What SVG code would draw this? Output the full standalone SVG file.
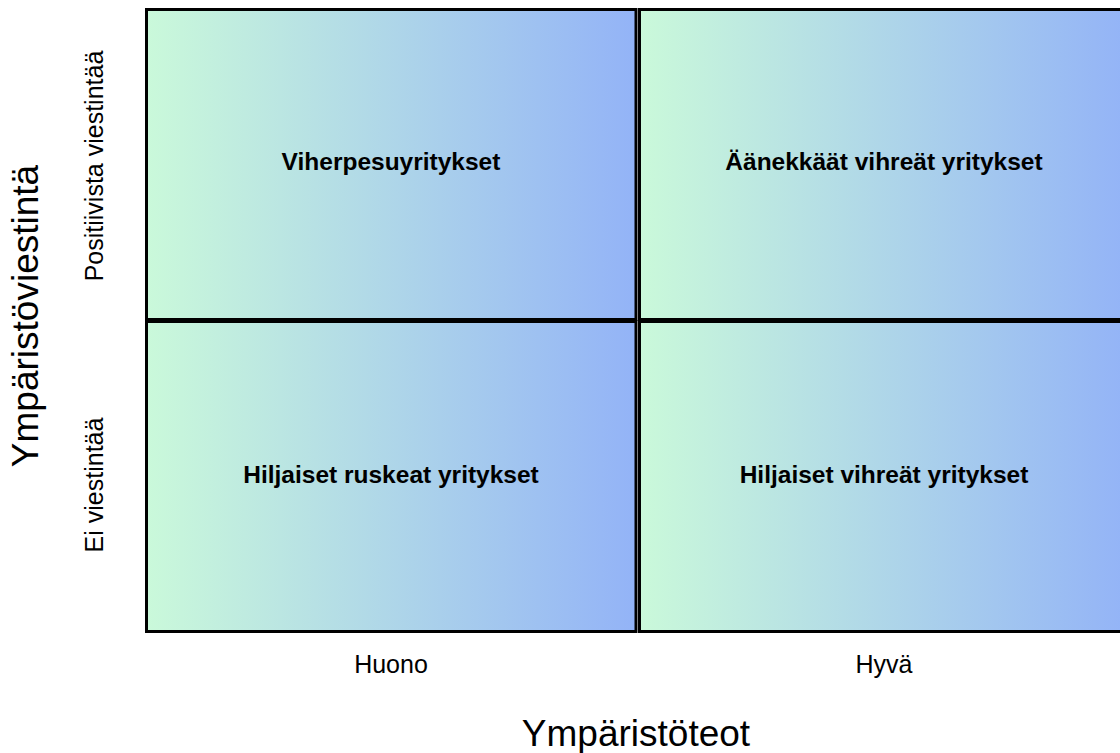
<svg xmlns="http://www.w3.org/2000/svg" width="1120" height="753" viewBox="0 0 1120 753">
<defs>
<linearGradient id="g" x1="0" y1="0" x2="1" y2="0">
<stop offset="0" stop-color="#caf9da"/>
<stop offset="1" stop-color="#93b3f7"/>
</linearGradient>
<style>
.q{fill:url(#g);stroke:#000;stroke-width:3}
.b{font-family:"Liberation Sans",Arial,sans-serif;font-weight:bold;font-size:24.5px;text-anchor:middle;fill:#000}
.s{font-family:"Liberation Sans",Arial,sans-serif;font-size:25px;text-anchor:middle;fill:#000}
.t{font-family:"Liberation Sans",Arial,sans-serif;font-size:37px;text-anchor:middle;fill:#000}
</style>
</defs>
<rect width="1120" height="753" fill="#fff"/>
<g id="q1">
<rect class="q" x="146.5" y="9.5" width="489.5" height="310"/>
<text class="b" x="391" y="170">Viherpesuyritykset</text>
</g>
<g id="q2">
<rect class="q" x="639.5" y="9.5" width="490" height="310"/>
<text class="b" x="884" y="170">Äänekkäät vihreät yritykset</text>
</g>
<g id="q3">
<rect class="q" x="146.5" y="321.5" width="489.5" height="310"/>
<text class="b" x="391" y="483">Hiljaiset ruskeat yritykset</text>
</g>
<g id="q4">
<rect class="q" x="639.5" y="321.5" width="490" height="310"/>
<text class="b" x="884" y="483">Hiljaiset vihreät yritykset</text>
</g>
<g id="labels">
<text class="s" x="391" y="673">Huono</text>
<text class="s" x="884" y="673">Hyvä</text>
<text class="t" x="636" y="746">Ympäristöteot</text>
<text class="t" transform="translate(38,316) rotate(-90)">Ympäristöviestintä</text>
<text class="s" transform="translate(103,166) rotate(-90)">Positiivista viestintää</text>
<text class="s" transform="translate(103,485) rotate(-90)">Ei viestintää</text>
</g>
<g id="connectors"/>
</svg>
